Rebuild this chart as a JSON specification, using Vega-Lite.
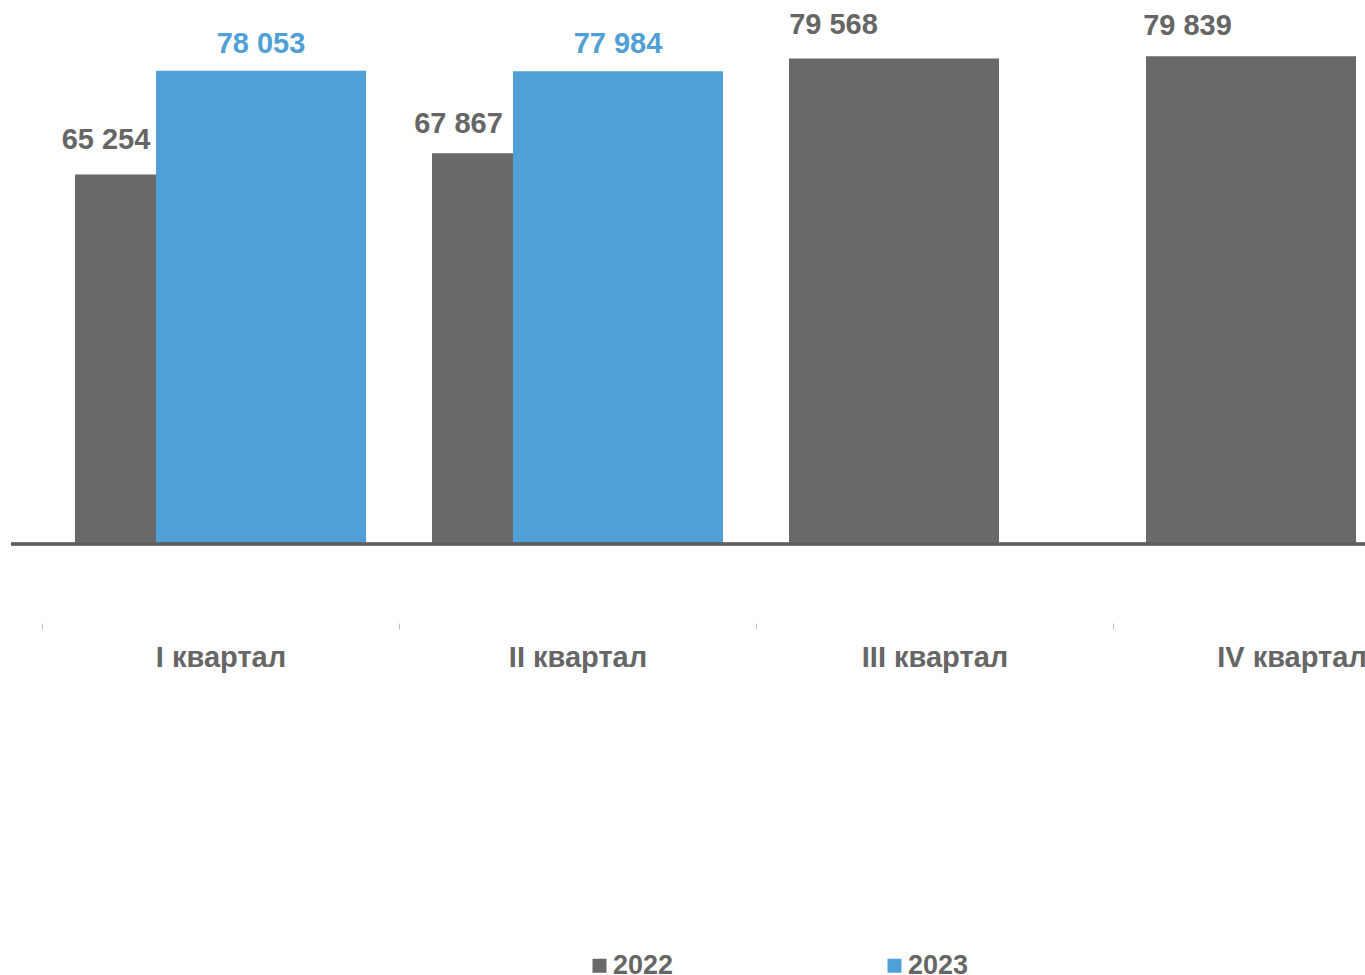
{
  "$schema": "https://vega.github.io/schema/vega-lite/v6.json",
  "autosize": {"type": "none"},
  "width": 1354,
  "height": 544,
  "padding": {"left": 11, "top": 0, "right": 0, "bottom": 431},
  "background": "white",
  "config": {
    "view": {"stroke": null},
    "font": "Liberation Sans",
    "locale": {"number": {"decimal": ",", "thousands": " ", "grouping": [3], "currency": ["", ""]}}
  },
  "data": {
    "values": [
      {"quarter": "I квартал", "year": "2022", "value": 65254},
      {"quarter": "I квартал", "year": "2023", "value": 78053},
      {"quarter": "II квартал", "year": "2022", "value": 67867},
      {"quarter": "II квартал", "year": "2023", "value": 77984},
      {"quarter": "III квартал", "year": "2022", "value": 79568},
      {"quarter": "IV квартал", "year": "2022", "value": 79839}
    ]
  },
  "encoding": {
    "x": {
      "field": "quarter",
      "type": "nominal",
      "sort": ["I квартал", "II квартал", "III квартал", "IV квартал"],
      "scale": {"range": [31, 1459], "paddingInner": 0, "paddingOuter": 0},
      "axis": {
        "title": null,
        "domain": false,
        "ticks": true,
        "tickBand": "extent",
        "tickColor": "#bfbfbf",
        "tickSize": 6,
        "tickWidth": 1,
        "offset": 79,
        "labelPadding": 14,
        "labelAngle": 0,
        "labelFontSize": 29,
        "labelFontWeight": "bold",
        "labelColor": "#666666",
        "labelFont": "Liberation Sans"
      }
    }
  },
  "layer": [
    {
      "transform": [{"filter": "datum.year == '2022'"}],
      "mark": {"type": "bar", "width": 210, "xOffset": -40.5},
      "encoding": {
        "y": {"field": "value", "type": "quantitative", "scale": {"domain": [19700, 86770], "zero": false, "nice": false}, "axis": null},
        "y2": {"datum": 19700},
        "color": {
          "field": "year",
          "type": "nominal",
          "scale": {"domain": ["2022", "2023"], "range": ["#696969", "#519fd7"]},
          "legend": {
            "title": null,
            "orient": "none",
            "direction": "horizontal",
            "legendX": 575,
            "legendY": 952,
            "padding": 0,
            "symbolType": "square",
            "symbolSize": 196,
            "symbolStrokeWidth": 0,
            "labelFontSize": 27,
            "labelFontWeight": "bold",
            "labelColor": "#666666",
            "labelFont": "Liberation Sans",
            "labelOffset": 0,
            "columnPadding": 207
          }
        }
      }
    },
    {
      "transform": [{"filter": "datum.year == '2023'"}],
      "mark": {"type": "bar", "width": 210, "xOffset": 40.5},
      "encoding": {
        "y": {"field": "value", "type": "quantitative"},
        "y2": {"datum": 19700},
        "color": {"field": "year", "type": "nominal"}
      }
    },
    {
      "mark": {"type": "rule", "color": "#5f5f5f", "strokeWidth": 2.5},
      "encoding": {"y": {"datum": 19700}, "x": null}
    },
    {
      "transform": [{"filter": "datum.year == '2022' && datum.quarter == 'I квартал'"}],
      "mark": {"type": "text", "dx": -114.5, "dy": -26, "baseline": "alphabetic", "align": "center", "fontSize": 29, "fontWeight": "bold", "color": "#666666", "font": "Liberation Sans"},
      "encoding": {
        "y": {"field": "value", "type": "quantitative"},
        "text": {"field": "value", "type": "quantitative", "format": ",d"}
      }
    },
    {
      "transform": [{"filter": "datum.year == '2022' && datum.quarter == 'II квартал'"}],
      "mark": {"type": "text", "dx": -119, "dy": -20, "baseline": "alphabetic", "align": "center", "fontSize": 29, "fontWeight": "bold", "color": "#666666", "font": "Liberation Sans"},
      "encoding": {
        "y": {"field": "value", "type": "quantitative"},
        "text": {"field": "value", "type": "quantitative", "format": ",d"}
      }
    },
    {
      "transform": [{"filter": "datum.year == '2022' && datum.quarter == 'III квартал'"}],
      "mark": {"type": "text", "dx": -101, "dy": -24, "baseline": "alphabetic", "align": "center", "fontSize": 29, "fontWeight": "bold", "color": "#666666", "font": "Liberation Sans"},
      "encoding": {
        "y": {"field": "value", "type": "quantitative"},
        "text": {"field": "value", "type": "quantitative", "format": ",d"}
      }
    },
    {
      "transform": [{"filter": "datum.year == '2022' && datum.quarter == 'IV квартал'"}],
      "mark": {"type": "text", "dx": -104, "dy": -21, "baseline": "alphabetic", "align": "center", "fontSize": 29, "fontWeight": "bold", "color": "#666666", "font": "Liberation Sans"},
      "encoding": {
        "y": {"field": "value", "type": "quantitative"},
        "text": {"field": "value", "type": "quantitative", "format": ",d"}
      }
    },
    {
      "transform": [{"filter": "datum.year == '2023'"}],
      "mark": {"type": "text", "dx": 40.5, "dy": -18, "baseline": "alphabetic", "align": "center", "fontSize": 29, "fontWeight": "bold", "color": "#519fd7", "font": "Liberation Sans"},
      "encoding": {
        "y": {"field": "value", "type": "quantitative"},
        "text": {"field": "value", "type": "quantitative", "format": ",d"}
      }
    }
  ]
}
